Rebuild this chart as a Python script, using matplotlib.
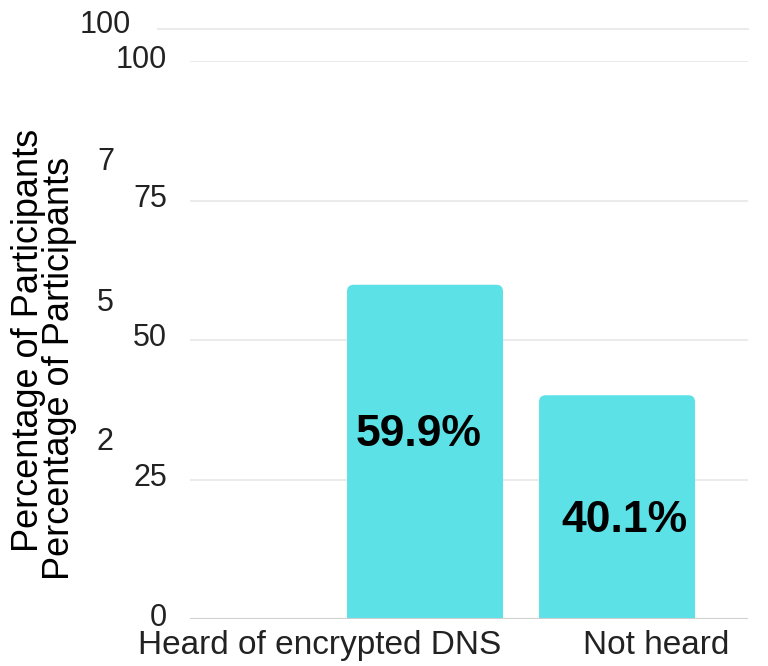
import matplotlib
matplotlib.use("Agg")
import matplotlib.pyplot as plt
from matplotlib.patches import FancyBboxPatch
from matplotlib.transforms import ScaledTranslation

plt.rcParams["font.family"] = ["Liberation Sans", "DejaVu Sans"]

categories = ["Heard of encrypted DNS", "Not heard"]
percentages = [59.9, 40.1]
y_ticks = [0, 25, 50, 75, 100]
y_label = "Percentage of Participants"

BAR_COLOR = "#5ce1e6"
GRID_COLOR = "#ebebeb"
TEXT_COLOR = "#222222"

W, H = 768, 666
fig = plt.figure(figsize=(W / 100, H / 100), dpi=100)

# axes box in pixel units
left, right, bottom, top = 190, 748, 619, 61
ax = fig.add_axes([left / W, 1 - bottom / H, (right - left) / W, (bottom - top) / H])

x_pos = [0, 1]
xmin, xmax = -1.224, 1.682
ax.set_xlim(xmin, xmax)
ax.set_ylim(0, 100)

bars = ax.bar(x_pos, percentages, width=0.8125, color=BAR_COLOR, zorder=2)

# swap plain rectangles for ones with softly rounded corners
px_per_x = (right - left) / (xmax - xmin)
px_per_y = (bottom - top) / 100
aspect = px_per_x / px_per_y
r = 0.035
for b in bars:
    b.set_visible(False)
    bx, bw, bh = b.get_x(), b.get_width(), b.get_height()
    patch = FancyBboxPatch((bx, -r * aspect), bw, bh + r * aspect,
                           boxstyle=f"round,pad=0,rounding_size={r}",
                           mutation_aspect=aspect, facecolor=BAR_COLOR,
                           edgecolor="none", zorder=2)
    ax.add_patch(patch)

# value labels inside bars
label_y = [33.0, 17.6]
label_dx = [-6, 7]
for xp, val, ly, dx in zip(x_pos, percentages, label_y, label_dx):
    ax.annotate(f"{val:.1f}%", (xp, ly), xytext=(dx, 0), textcoords="offset pixels",
                ha="center", va="center", fontsize=32, fontweight="bold",
                color="black", zorder=3)

# grid lines
for t in y_ticks[1:]:
    ax.axhline(t, color=GRID_COLOR, lw=1.5, zorder=1)
ax.axhline(0, color="#cfcfcf", lw=1.5, zorder=3)

for s in ax.spines.values():
    s.set_visible(False)
ax.tick_params(length=0)
ax.set_yticks(y_ticks)
ax.set_yticklabels([str(t) for t in y_ticks], fontsize=22, color=TEXT_COLOR)
for lbl in ax.get_yticklabels():
    lbl.set_transform(lbl.get_transform() + ScaledTranslation(-0.18, 0.05, fig.dpi_scale_trans))
ax.set_xticks([-0.547, 1.203])
ax.set_xticklabels(categories, fontsize=24, color=TEXT_COLOR)
for lbl in ax.get_xticklabels():
    lbl.set_transform(lbl.get_transform() + ScaledTranslation(0, -0.06, fig.dpi_scale_trans))

# duplicated, shifted copy of the axis labelling behind the main one
fig.text(131 / W, 1 - 25 / H, str(y_ticks[-1]), ha="right", va="center",
         fontsize=22, color=TEXT_COLOR)
fig.add_artist(plt.Line2D([158 / W, right / W], [1 - 29 / H, 1 - 29 / H],
                          color=GRID_COLOR, lw=1.5))
for t, yp in zip(y_ticks[1:4][::-1], [162, 303, 442]):
    fig.text(97 / W, 1 - yp / H, str(t)[0], ha="left", va="center",
             fontsize=22, color=TEXT_COLOR)

fig.text(29 / W, 1 - 340 / H, y_label, rotation=90, ha="center", va="center",
         fontsize=26, color="black")
fig.text(60 / W, 1 - 368 / H, y_label, rotation=90, ha="center", va="center",
         fontsize=26, color="black")

fig.savefig("out.png", dpi=100, facecolor="white")
